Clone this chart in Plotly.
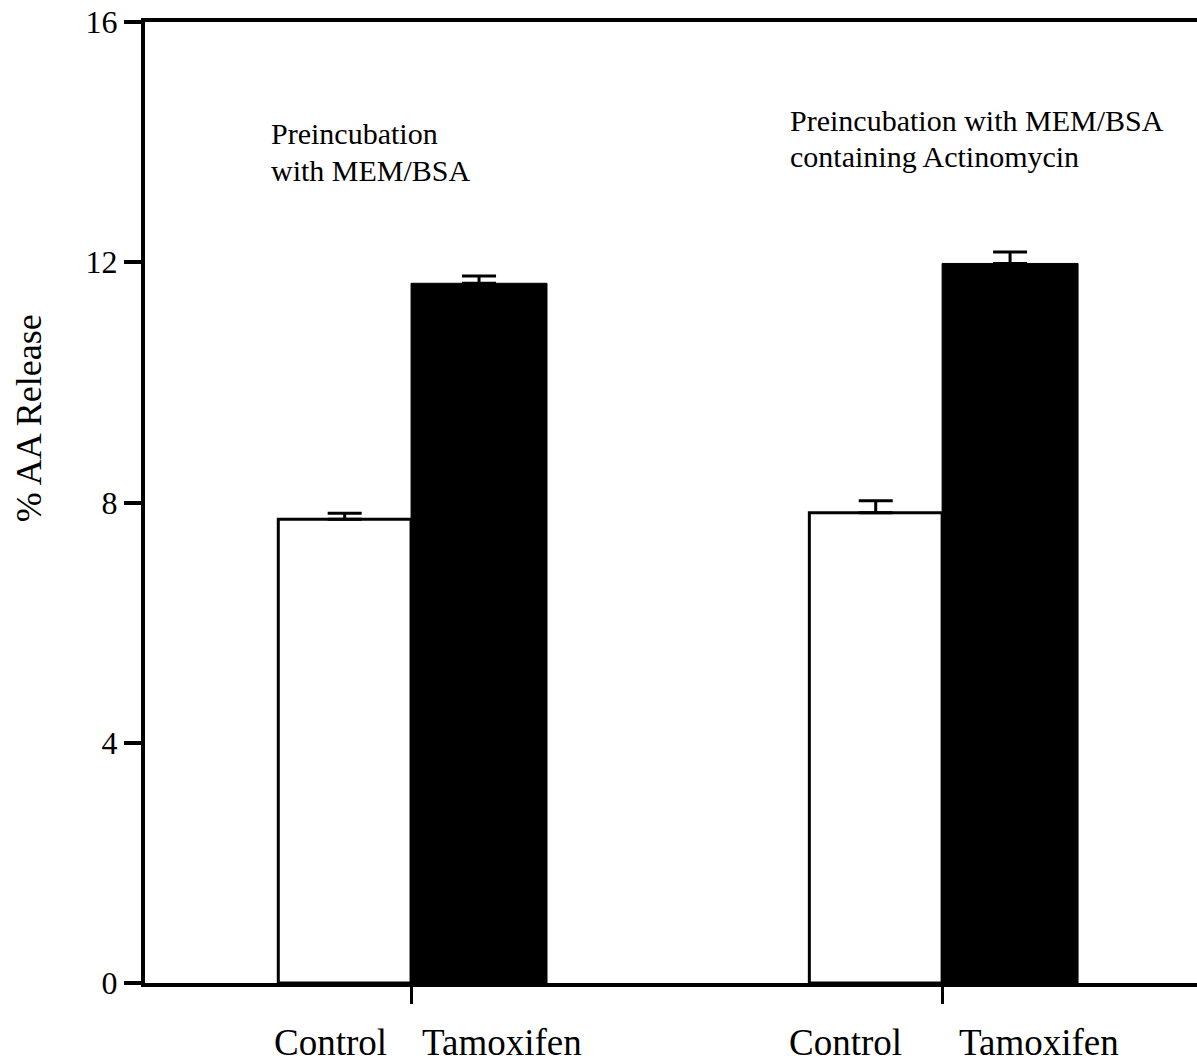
import plotly.graph_objects as go

# Two preincubation conditions, each with a Control and a Tamoxifen bar
groups = [1, 2]
control = [7.72, 7.83]
tamoxifen = [11.65, 11.98]
control_err = [0.10, 0.20]
tamoxifen_err = [0.12, 0.19]
treatment_labels = ["Control", "Tamoxifen"]
condition_notes = [["Preincubation", "with MEM/BSA"],
                   ["Preincubation with MEM/BSA", "containing Actinomycin"]]
y_ticks = [0, 4, 8, 12, 16]

FONT = "Liberation Serif"
BAR_W = 0.25

fig = go.Figure()
fig.add_trace(go.Bar(
    x=groups, y=control, width=BAR_W, offset=-BAR_W,
    marker=dict(color="white", line=dict(color="black", width=3)),
    error_y=dict(type="data", array=control_err, arrayminus=[0, 0], symmetric=False,
                 color="black", thickness=3, width=17),
    showlegend=False,
))
fig.add_trace(go.Bar(
    x=groups, y=tamoxifen, width=0.256, offset=0,
    marker=dict(color="black", line=dict(color="black", width=1)),
    error_y=dict(type="data", array=tamoxifen_err, arrayminus=[0, 0], symmetric=False,
                 color="black", thickness=3, width=17),
    showlegend=False,
))

annotations = []
# Condition notes above each group, one annotation per line for tight spacing
note_x = [0.7326, 1.710]
note_line_y = [[14.452, 13.835], [14.668, 14.069]]
for nx, ys, lines in zip(note_x, note_line_y, condition_notes):
    for ny, txt in zip(ys, lines):
        annotations.append(dict(x=nx, y=ny, xref="x", yref="y", text=txt, showarrow=False,
                                xanchor="left", yanchor="top", align="left",
                                font=dict(family=FONT, size=30, color="black")))

# Treatment names under the axis
label_x = [[0.7382, 1.0169], [1.7081, 2.0282]]
for gx in label_x:
    for lx, txt in zip(gx, treatment_labels):
        annotations.append(dict(x=lx, y=-0.0614, xref="x", yref="paper", text=txt,
                                showarrow=False, xanchor="left", yanchor="middle",
                                font=dict(family=FONT, size=37, color="black")))

# Y-axis title
annotations.append(dict(x=-0.110, y=0.588, xref="paper", yref="paper", text="% AA Release",
                        showarrow=False, textangle=-90, xanchor="center", yanchor="middle",
                        font=dict(family=FONT, size=36, color="black")))

fig.update_layout(
    width=1197, height=1062,
    margin=dict(l=145, r=0, t=22, b=79),
    plot_bgcolor="white", paper_bgcolor="white",
    barmode="overlay",
    annotations=annotations,
    xaxis=dict(range=[0.499, 2.48], tickvals=groups, ticktext=["", ""],
               ticks="outside", ticklen=17, tickwidth=3, tickcolor="black",
               showline=True, linewidth=4, linecolor="black", mirror=True,
               showgrid=False, zeroline=False),
    yaxis=dict(range=[0, 16], tickvals=y_ticks,
               ticks="outside", ticklen=17, tickwidth=4, tickcolor="black",
               showline=True, linewidth=4, linecolor="black",
               showgrid=False, zeroline=False, ticklabelstandoff=0,
               tickfont=dict(family=FONT, size=32, color="black")),
)

fig.write_html("out.html")
